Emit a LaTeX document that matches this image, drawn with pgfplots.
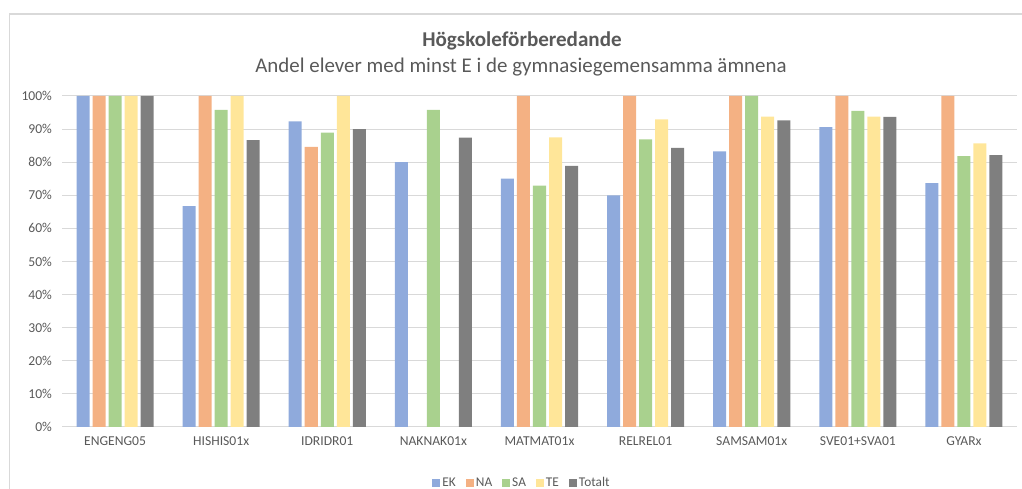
\documentclass[border=0pt]{standalone}
\usepackage{pgfplots}
\pgfplotsset{compat=1.18}
\usepackage{fontspec}
\setmainfont{Carlito}
\definecolor{ek}{RGB}{143,170,220}
\definecolor{na}{RGB}{244,177,131}
\definecolor{sa}{RGB}{169,209,142}
\definecolor{te}{RGB}{255,230,153}
\definecolor{tot}{RGB}{127,127,127}
\definecolor{gridc}{RGB}{217,217,217}
\definecolor{txt}{RGB}{89,89,89}
\begin{document}
\begin{tikzpicture}[x=0.75pt,y=0.75pt]
\useasboundingbox (0,0) rectangle (1022,489);
\draw[color=gridc, line width=1pt] (9.5,0) -- (9.5,475) -- (1022,475);
\node[font=\fontsize{15.8}{19}\selectfont\bfseries, text=txt] at (522,448) {Högskoleförberedande};
\node[font=\fontsize{15.7}{19}\selectfont, text=txt] at (521,422) {Andel elever med minst E i de gymnasiegemensamma ämnena};
\begin{axis}[
  at={(46.5pt,46.5pt)}, anchor=south west,
  scale only axis, width=716.25pt, height=248.25pt,
  xmin=-0.5, xmax=8.5, ymin=0, ymax=100,
  xtick={0,...,8},
  xticklabels={ENGENG05,HISHIS01x,IDRIDR01,NAKNAK01x,MATMAT01x,RELREL01,SAMSAM01x,SVE01+SVA01,GYARx},
  ytick={0,10,...,100},
  yticklabels={0\%,10\%,20\%,30\%,40\%,50\%,60\%,70\%,80\%,90\%,100\%},
  major tick length=0pt,
  ymajorgrids, grid style={gridc, line width=0.75pt},
  axis line style={draw=none},
  ticklabel style={font=\fontsize{10.2}{12}\selectfont, text=txt},
  yticklabel style={xshift=-4pt},
  xticklabel style={yshift=-4pt},
  legend columns=5,
  legend style={at={(axis description cs:0.4817,-0.169)}, anchor=center, draw=none, fill=none,
    font=\fontsize{10}{12}\selectfont, text=txt, inner sep=0pt,
    nodes={inner sep=1.5pt},
    /tikz/every even column/.append style={column sep=6pt}},
  legend image code/.code={\fill[#1] (0pt,-3pt) rectangle (6pt,3pt);},
  clip=false,
]
\draw[gridc, line width=0.75pt] (axis cs:-0.5,0) -- (axis cs:8.5,0);
\addplot[ybar, bar width=0.1226, bar shift=-0.302, fill=ek, draw=none] coordinates {
(0,100) (1,66.7) (2,92.3) (3,80) (4,75) (5,70) (6,83.3) (7,90.6) (8,73.7)};
\addlegendentry{EK}
\addplot[ybar, bar width=0.1226, bar shift=-0.151, fill=na, draw=none] coordinates {
(0,100) (1,100) (2,84.6) (4,100) (5,100) (6,100) (7,100) (8,100)};
\addlegendentry{NA}
\addplot[ybar, bar width=0.1226, bar shift=0, fill=sa, draw=none] coordinates {
(0,100) (1,95.8) (2,88.9) (3,95.8) (4,72.9) (5,86.9) (6,100) (7,95.5) (8,81.8)};
\addlegendentry{SA}
\addplot[ybar, bar width=0.1226, bar shift=0.151, fill=te, draw=none] coordinates {
(0,100) (1,100) (2,100) (4,87.5) (5,92.9) (6,93.8) (7,93.8) (8,85.7)};
\addlegendentry{TE}
\addplot[ybar, bar width=0.1226, bar shift=0.302, fill=tot, draw=none] coordinates {
(0,100) (1,86.7) (2,90) (3,87.4) (4,78.9) (5,84.3) (6,92.6) (7,93.7) (8,82.1)};
\addlegendentry{Totalt}
\end{axis}
\end{tikzpicture}
\end{document}
